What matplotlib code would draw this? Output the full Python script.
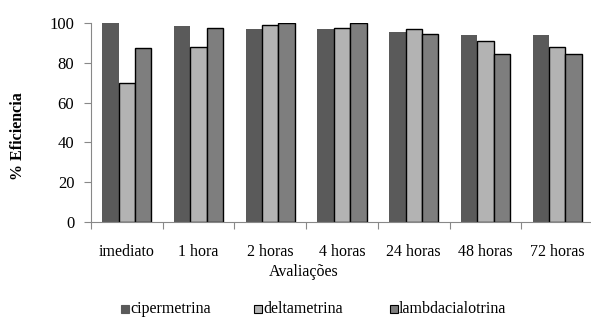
import numpy as np
import matplotlib
matplotlib.use('Agg')
import matplotlib.pyplot as plt

categories = ['imediato', '1 hora', '2 horas', '4 horas', '24 horas', '48 horas', '72 horas']
cipermetrina = [100, 98.5, 97, 97, 95.5, 94, 94]
deltametrina = [70, 88, 99, 97.5, 97, 91, 88]
lambdacialotrina = [87.5, 97.5, 100, 100, 94.5, 84.5, 84.5]

series = [('cipermetrina', cipermetrina, '#5a5a5a', 'none'),
          ('deltametrina', deltametrina, '#b3b3b3', 'black'),
          ('lambdacialotrina', lambdacialotrina, '#7e7e7e', 'black')]

plt.rcParams['font.family'] = ['Liberation Serif', 'DejaVu Serif']

fig = plt.figure(figsize=(5.91, 3.2), dpi=100, facecolor='white')
ax = fig.add_axes([91 / 591, 98 / 320, 502 / 591, 199 / 320])

x = np.arange(len(categories))
w = 0.228
for i, (name, vals, col, ec) in enumerate(series):
    ax.bar(x + (i - 1) * w, vals, width=w, color=col, edgecolor=ec,
           linewidth=1.0, label=name, zorder=2)

ax.set_xlim(-0.5, len(categories) - 0.5)
ax.set_ylim(0, 100)
ax.set_yticks(range(0, 101, 20))
ax.set_xticks(np.arange(len(categories) + 1) - 0.5)
ax.set_xticklabels([])
ax.set_xticks(x, minor=True)
ax.set_xticklabels(categories, minor=True)
ax.tick_params(axis='x', which='minor', length=0, pad=16, labelsize=11.5)
ax.tick_params(axis='x', which='major', length=5, color='#888888', direction='out')
ax.tick_params(axis='y', length=5, color='#888888', pad=7, labelsize=12)

for s in ['top', 'right']:
    ax.spines[s].set_visible(False)
for s in ['left', 'bottom']:
    ax.spines[s].set_color('#888888')

fig.text(304 / 591, 1 - 272 / 320, 'Avaliações', ha='center', va='center', fontsize=11.5)
fig.text(18 / 591, 1 - 136 / 320, '% Eficiencia', ha='center', va='center',
         rotation=90, fontsize=11.5, fontweight='bold')

# legend drawn as three separate entries along the bottom
leg_x = [125, 258, 394]
for (name, vals, col, ec), lx in zip(series, leg_x):
    fig.patches.append(plt.Rectangle(((lx - 4) / 591, 1 - 313 / 320), 8 / 591, 8 / 320,
                                     facecolor=col, edgecolor='black' if ec != 'none' else col,
                                     linewidth=0.8, transform=fig.transFigure))
    fig.text((lx + 5) / 591, 1 - 309 / 320, name, ha='left', va='center', fontsize=11.5)

fig.savefig('out.png', dpi=100, facecolor='white')
